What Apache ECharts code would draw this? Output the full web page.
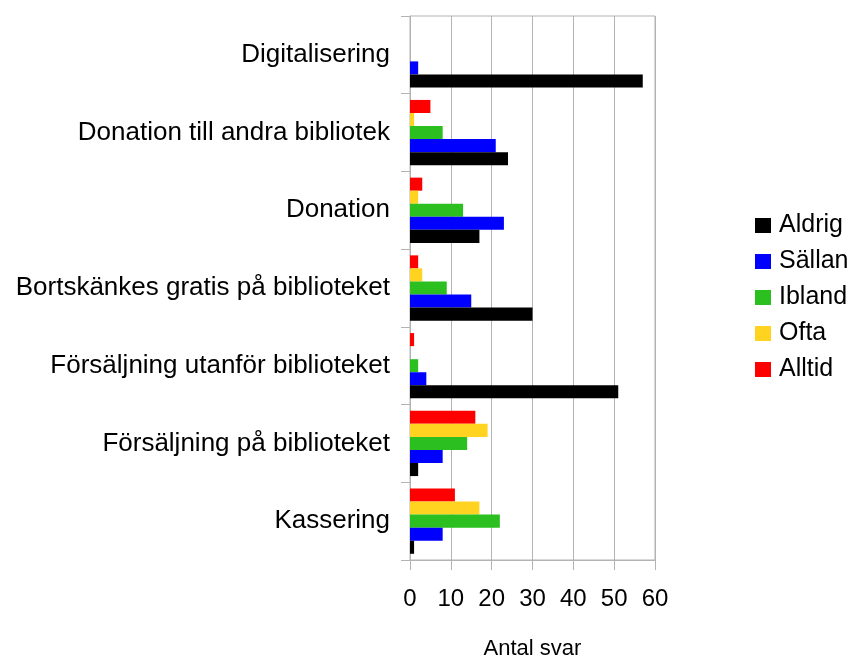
<!DOCTYPE html>
<html>
<head>
<meta charset="utf-8">
<script src="https://cdn.jsdelivr.net/npm/echarts@6/dist/echarts.min.js"></script>
<style>
  html, body { margin: 0; padding: 0; background: #fff; }
  #chart { width: 850px; height: 657px; }
</style>
</head>
<body>
<div id="chart"></div>
<script>
// categories, bottom to top
var categories = [
  'Kassering',
  'Försäljning på biblioteket',
  'Försäljning utanför biblioteket',
  'Bortskänkes gratis på biblioteket',
  'Donation',
  'Donation till andra bibliotek',
  'Digitalisering'
];
var seriesNames = ['Aldrig', 'Sällan', 'Ibland', 'Ofta', 'Alltid'];
var aldrig = [1, 2, 51, 30, 17, 24, 57];
var sallan = [8, 8, 4, 15, 23, 21, 2];
var ibland = [22, 14, 2, 9, 13, 8, 0];
var ofta   = [17, 19, 0, 3, 2, 1, 0];
var alltid = [11, 16, 1, 2, 3, 5, 0];
var xTicks = [0, 10, 20, 30, 40, 50, 60];

var colors = ['#000000', '#0000ff', '#2bbf20', '#ffd320', '#ff0000'];
var font = 'Liberation Sans, Arial, sans-serif';
var grey = '#b3b3b3';

var values = [aldrig, sallan, ibland, ofta, alltid];
// echarts puts the first series on top in a horizontal group, so add them reversed
var series = [];
for (var i = seriesNames.length - 1; i >= 0; i--) {
  series.push({
    name: seriesNames[i],
    type: 'bar',
    data: values[i],
    barGap: 0,
    barCategoryGap: '16%',
    itemStyle: { color: colors[i] }
  });
}

var myChart = echarts.init(document.getElementById('chart'));
myChart.setOption({
  animation: false,
  textStyle: { fontFamily: font },
  grid: {
    left: 410, right: 195, top: 16, bottom: 97,
    outerBoundsMode: 'none',
    containLabel: false,
    show: true, borderColor: grey, borderWidth: 1
  },
  legend: {
    orient: 'vertical',
    left: 755,
    top: 213,
    padding: 0,
    itemWidth: 16,
    itemHeight: 15,
    itemGap: 11,
    icon: 'rect',
    textStyle: { fontSize: 25, color: '#000', fontFamily: font, padding: [0, 0, 0, 3] },
    data: seriesNames
  },
  xAxis: {
    type: 'value',
    min: xTicks[0],
    max: xTicks[xTicks.length - 1],
    interval: 10,
    name: 'Antal svar',
    nameLocation: 'middle',
    nameGap: 78,
    nameTextStyle: { fontSize: 22, color: '#000', fontFamily: font },
    axisLine: { show: true, lineStyle: { color: grey } },
    axisTick: { show: true, length: 10, lineStyle: { color: grey } },
    axisLabel: { fontSize: 24, color: '#000', margin: 27, fontFamily: font },
    splitLine: { show: true, lineStyle: { color: grey } }
  },
  yAxis: {
    type: 'category',
    data: categories,
    axisLine: { show: true, lineStyle: { color: grey } },
    axisTick: { show: true, length: 9, lineStyle: { color: grey } },
    axisLabel: { fontSize: 26, color: '#000', margin: 20, fontFamily: font },
    splitLine: { show: false }
  },
  series: series
});
</script>
</body>
</html>
